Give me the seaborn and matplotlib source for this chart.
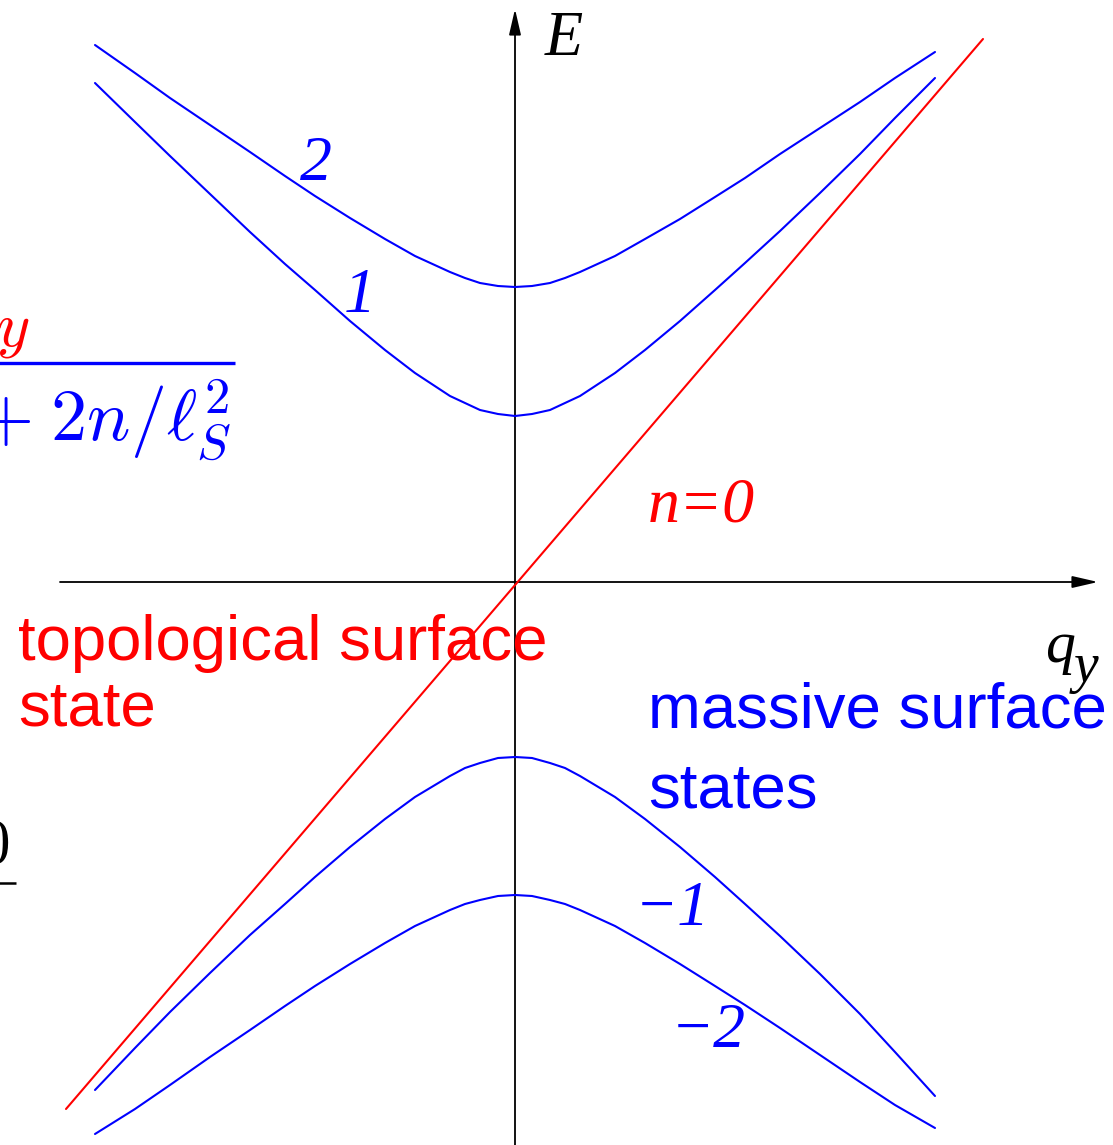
import matplotlib
matplotlib.use("Agg")
import matplotlib.pyplot as plt
import numpy as np
import pandas as pd
import seaborn as sns

# Momentum samples (q_y) shared by the massive bands
q_vals = [-420, -380, -345, -305, -265, -230, -200, -165, -130, -100, -65, -50, -35, -17, 0,
          17, 35, 50, 65, 100, 130, 165, 200, 230, 265, 305, 345, 380, 420]

# Energies of the massive surface-state bands
band_p2 = [537, 509, 484, 457, 430, 406, 386, 364, 343, 326, 310, 304, 299, 296, 295,
           296, 299, 304, 310, 326, 343, 363, 385, 404, 428, 454, 480, 504, 530]
band_p1 = [499, 460, 426, 388, 350, 318, 292, 261, 232, 209, 186, 179, 172, 168, 166,
           168, 172, 179, 186, 209, 232, 261, 292, 319, 351, 389, 428, 464, 504]
band_m1 = [-508, -466, -430, -391, -353, -322, -295, -265, -237, -215, -194, -186, -181, -176, -175,
           -176, -181, -186, -194, -215, -237, -265, -295, -322, -354, -392, -432, -470, -514]
band_m2 = [-552, -527, -503, -475, -448, -424, -404, -382, -361, -344, -328, -322, -318, -314, -313,
           -314, -318, -322, -328, -344, -361, -382, -404, -423, -446, -473, -500, -523, -546]

# Linear (gapless) topological surface state, n = 0
q_n0 = [-449, 468]
e_n0 = [-527, 543]

BLUE = "#0000ff"
RED = "#ff0000"

rows = []
for name, vals in [("2", band_p2), ("1", band_p1), ("-1", band_m1), ("-2", band_m2)]:
    for q, e in zip(q_vals, vals):
        rows.append({"q": q, "E": e, "band": name})
for q, e in zip(q_n0, e_n0):
    rows.append({"q": q, "E": e, "band": "0"})
df = pd.DataFrame(rows)

sns.set_theme(style="white")
plt.rcParams["mathtext.fontset"] = "cm"

fig = plt.figure(figsize=(11.13, 11.45), dpi=100)
ax = fig.add_axes([0, 0, 1, 1])
ax.set_xlim(-515, 598)
ax.set_ylim(-563, 582)
ax.axis("off")

palette = {"2": BLUE, "1": BLUE, "-1": BLUE, "-2": BLUE, "0": RED}
sns.lineplot(data=df, x="q", y="E", hue="band", palette=palette, estimator=None,
             sort=False, lw=1.5, legend=False, ax=ax, zorder=3)
for line in ax.get_lines():
    line.set_solid_joinstyle("round")

# Axes with arrow heads
arrow = dict(arrowstyle="-|>,head_length=1.3,head_width=0.3", color="black", lw=1.3,
             shrinkA=0, shrinkB=0)
ax.annotate("", xy=(0, 573), xytext=(0, -563), arrowprops=arrow, zorder=2)
ax.annotate("", xy=(583, 0), xytext=(-455, 0), arrowprops=arrow, zorder=2)

serif_it = dict(family="Liberation Serif", style="italic")
ax.text(30, 527, "E", fontsize=45, color="black", va="baseline", ha="left", **serif_it)
ax.text(530, -80, "q", fontsize=43, color="black", va="baseline", ha="left", **serif_it)
ax.text(559, -100, "y", fontsize=40, color="black", va="baseline", ha="left", **serif_it)

# Band indices
ax.text(-215, 402, "2", fontsize=46, color=BLUE, va="baseline", **serif_it)
ax.text(-171, 270, "1", fontsize=46, color=BLUE, va="baseline", **serif_it)
ax.text(133, 60, "n=0", fontsize=46, color=RED, va="baseline", **serif_it)
ax.text(120, -343, "\u22121", fontsize=46, color=BLUE, va="baseline", **serif_it)
ax.text(156, -465, "\u22122", fontsize=46, color=BLUE, va="baseline", **serif_it)

# Region captions
sans = dict(family="Liberation Sans", fontsize=45.7, va="baseline", ha="left")
ax.text(-497, -78, "topological surface", color=RED, **sans)
ax.text(-497, -143, "state", color=RED, **sans)
ax.text(133, -146, "massive surface", color=BLUE, **sans)
ax.text(133, -226, "states", color=BLUE, **sans)

# Dispersion formula at the left edge
ax.text(-486, 237, r"$y$", fontsize=46, color=RED, va="baseline", ha="right")
ax.plot([-520, -280], [219, 219], color=BLUE, lw=2.4, solid_capstyle="butt")
ax.text(-284, 141, r"$+\;2n/\ell_S^2$", fontsize=52, color=BLUE, va="baseline", ha="right")
ax.text(-506, -281, r"$0$", fontsize=44, color="black", va="baseline", ha="right")
ax.plot([-520, -499], [-301, -301], color="black", lw=1.8, solid_capstyle="butt")

fig.savefig("out.png", dpi=100)
